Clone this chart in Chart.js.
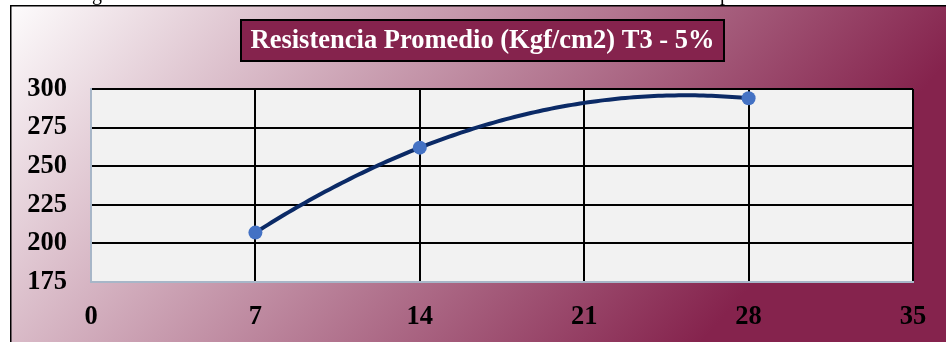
<!DOCTYPE html>
<html lang="es">
<head>
<meta charset="utf-8">
<script src="https://cdn.jsdelivr.net/npm/chart.js@4/dist/chart.umd.min.js"></script>
<style>
  html, body { margin: 0; padding: 0; background: #ffffff; }
  #wrap { width: 946px; height: 342px; }
</style>
</head>
<body>
<div id="wrap"><canvas id="grafico" width="946" height="342"></canvas></div>
<script>
// Edad de ensayo (días) y resistencia promedio medida
const edadDias = [7, 14, 28];
const resistencia = [207, 262, 294];

// Marcas de los ejes
const ticksEdad = [0, 7, 14, 21, 28, 35];
const ticksResistencia = [175, 200, 225, 250, 275, 300];

const tituloGrafico = 'Resistencia Promedio (Kgf/cm2) T3 - 5%';

const MARRON = '#85234d';
const FUENTE = '"Liberation Serif", "Times New Roman", serif';

// Ajuste polinómico de 2º orden por mínimos cuadrados (línea de tendencia)
function ajustePolinomico2(xs, ys) {
  let s = [0, 0, 0, 0, 0], t = [0, 0, 0];
  xs.forEach((x, i) => {
    for (let k = 0; k <= 4; k++) s[k] += Math.pow(x, k);
    for (let k = 0; k <= 2; k++) t[k] += ys[i] * Math.pow(x, k);
  });
  const M = [[s[0], s[1], s[2], t[0]], [s[1], s[2], s[3], t[1]], [s[2], s[3], s[4], t[2]]];
  for (let c = 0; c < 3; c++) {
    for (let r = c + 1; r < 3; r++) {
      const f = M[r][c] / M[c][c];
      for (let k = c; k < 4; k++) M[r][k] -= f * M[c][k];
    }
  }
  const coef = [0, 0, 0];
  for (let r = 2; r >= 0; r--) {
    let v = M[r][3];
    for (let k = r + 1; k < 3; k++) v -= M[r][k] * coef[k];
    coef[r] = v / M[r][r];
  }
  return x => coef[0] + coef[1] * x + coef[2] * x * x;
}

const fondo = {
  id: 'fondo',
  beforeDraw(chart) {
    const ctx = chart.ctx, W = chart.width, H = chart.height;
    ctx.save();
    ctx.fillStyle = '#ffffff';
    ctx.fillRect(0, 0, W, H);

    // línea de texto del pie superior (recortada)
    ctx.fillStyle = '#000';
    ctx.font = '20px ' + FUENTE;
    ctx.textBaseline = 'alphabetic';
    ctx.textAlign = 'center';
    ctx.fillText('g', 97, 0);
    ctx.fillText('p', 725, 0);

    // fondo degradado del gráfico
    const g = ctx.createLinearGradient(0, 0, 565, 497);
    g.addColorStop(0, '#ffffff');
    g.addColorStop(1, MARRON);
    ctx.fillStyle = g;
    ctx.fillRect(10, 5, W, H);
    ctx.strokeStyle = '#000';
    ctx.lineWidth = 1.5;
    ctx.beginPath();
    ctx.moveTo(10.75, H);
    ctx.lineTo(10.75, 5.75);
    ctx.lineTo(W, 5.75);
    ctx.stroke();

    // recuadro del título
    ctx.fillStyle = MARRON;
    ctx.fillRect(241, 20, 483, 41);
    ctx.strokeStyle = '#000';
    ctx.lineWidth = 2;
    ctx.strokeRect(241, 20, 483, 41);
    ctx.fillStyle = '#ffffff';
    ctx.font = 'bold 26.5px ' + FUENTE;
    ctx.textAlign = 'center';
    ctx.textBaseline = 'middle';
    ctx.fillText(tituloGrafico, 482.5, 41);

    // fondo del área de trazado
    const a = chart.chartArea;
    ctx.fillStyle = '#f2f2f2';
    ctx.fillRect(a.left, a.top, a.right - a.left, a.bottom - a.top);
    ctx.restore();
  }
};

const tendencia = {
  id: 'tendencia',
  beforeDatasetsDraw(chart) {
    const f = ajustePolinomico2(edadDias, resistencia);
    const xs = chart.scales.x, ys = chart.scales.y, ctx = chart.ctx;
    const x0 = Math.min(...edadDias), x1 = Math.max(...edadDias);
    ctx.save();
    ctx.strokeStyle = '#0b2a66';
    ctx.lineWidth = 4;
    ctx.lineCap = 'round';
    ctx.beginPath();
    const n = 120;
    for (let i = 0; i <= n; i++) {
      const x = x0 + (x1 - x0) * i / n;
      const px = xs.getPixelForValue(x), py = ys.getPixelForValue(f(x));
      if (i === 0) ctx.moveTo(px, py); else ctx.lineTo(px, py);
    }
    ctx.stroke();
    ctx.restore();
  }
};

const rejilla = (ctx) => (ctx.tick && (ctx.tick.value === 0 || ctx.tick.value === 175)) ? 'rgba(0,0,0,0)' : '#000000';
const fuenteTicks = { family: FUENTE, size: 26.5, weight: 'bold' };

new Chart(document.getElementById('grafico'), {
  type: 'scatter',
  data: {
    datasets: [{
      label: 'Resistencia',
      data: edadDias.map((d, i) => ({ x: d, y: resistencia[i] })),
      showLine: false,
      pointRadius: 7,
      pointHoverRadius: 7,
      pointBackgroundColor: '#4472c4',
      pointBorderColor: '#4472c4',
      pointBorderWidth: 0
    }]
  },
  options: {
    responsive: false,
    devicePixelRatio: 1,
    animation: false,
    events: [],
    layout: { padding: { top: 89, right: 33, left: 0, bottom: 0 } },
    plugins: { legend: { display: false }, title: { display: false }, tooltip: { enabled: false } },
    scales: {
      x: {
        type: 'linear',
        min: 0, max: 35,
        afterBuildTicks: s => { s.ticks = ticksEdad.map(v => ({ value: v })); },
        afterFit: s => { s.height = 60; },
        grid: { color: rejilla, lineWidth: 2, drawTicks: false },
        border: { color: '#a7b6c8', width: 2 },
        ticks: { font: fuenteTicks, color: '#000', padding: 19, maxRotation: 0, autoSkip: false }
      },
      y: {
        type: 'linear',
        min: 175, max: 300,
        afterBuildTicks: s => { s.ticks = ticksResistencia.map(v => ({ value: v })); },
        afterFit: s => { s.width = 91; },
        grid: { color: rejilla, lineWidth: 2, drawTicks: false },
        border: { color: '#a7b6c8', width: 2 },
        ticks: { font: fuenteTicks, color: '#000', padding: 24, autoSkip: false }
      }
    }
  },
  plugins: [fondo, tendencia]
});
</script>
</body>
</html>
